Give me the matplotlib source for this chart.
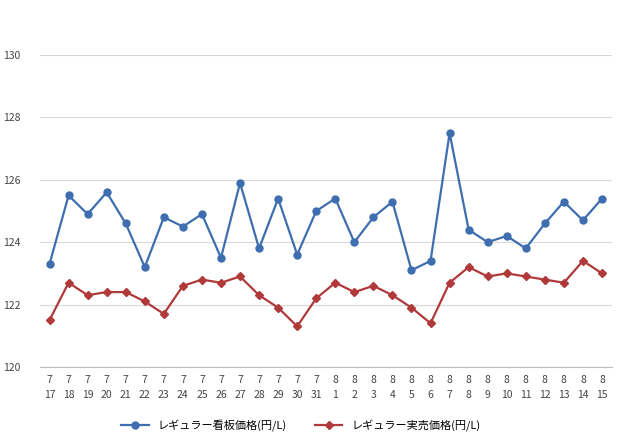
import matplotlib
matplotlib.use("Agg")
import matplotlib.pyplot as plt

dates = ["7\n17","7\n18","7\n19","7\n20","7\n21","7\n22","7\n23","7\n24","7\n25","7\n26","7\n27","7\n28","7\n29","7\n30","7\n31",
         "8\n1","8\n2","8\n3","8\n4","8\n5","8\n6","8\n7","8\n8","8\n9","8\n10","8\n11","8\n12","8\n13","8\n14","8\n15"]
signboard = [123.3,125.5,124.9,125.6,124.6,123.2,124.8,124.5,124.9,123.5,125.9,123.8,125.4,123.6,125.0,
             125.4,124.0,124.8,125.3,123.1,123.4,127.5,124.4,124.0,124.2,123.8,124.6,125.3,124.7,125.4]
actual = [121.5,122.7,122.3,122.4,122.4,122.1,121.7,122.6,122.8,122.7,122.9,122.3,121.9,121.3,122.2,
          122.7,122.4,122.6,122.3,121.9,121.4,122.7,123.2,122.9,123.0,122.9,122.8,122.7,123.4,123.0]
yticks = [120,122,124,126,128,130]

plt.rcParams["font.family"] = ["Noto Sans CJK JP"]
fig = plt.figure(figsize=(6.4,4.41), dpi=100)
ax = fig.add_axes([0.0625,0.168,0.893,0.707])
x = range(len(dates))
ax.plot(x, signboard, color="#3e6eb0", lw=1.6, marker="o", ms=5, label="レギュラー看板価格(円/L)")
ax.plot(x, actual, color="#b03a3a", lw=1.6, marker="D", ms=4, label="レギュラー実売価格(円/L)")
ax.set_xlim(-0.5, len(dates)-0.5)
ax.set_ylim(120,130)
ax.set_yticks(yticks)
ax.set_xticks(list(x))
ax.set_xticklabels(dates, fontsize=7.5, color="#444444", linespacing=1.6)
ax.tick_params(axis="y", labelsize=7.5, colors="#444444", length=0, pad=14)
ax.tick_params(axis="x", length=0, pad=6)
ax.grid(axis="y", color="#d9d9d9", lw=0.8)
for s in ["left","right","top"]:
    ax.spines[s].set_visible(False)
ax.spines["bottom"].set_color("#bbbbbb")
ax.set_axisbelow(True)
fig.legend(loc="lower center", bbox_to_anchor=(0.47,0.0), ncol=2, frameon=False, fontsize=8, handlelength=2.5, columnspacing=2.5)
fig.savefig("out.png", dpi=100)
